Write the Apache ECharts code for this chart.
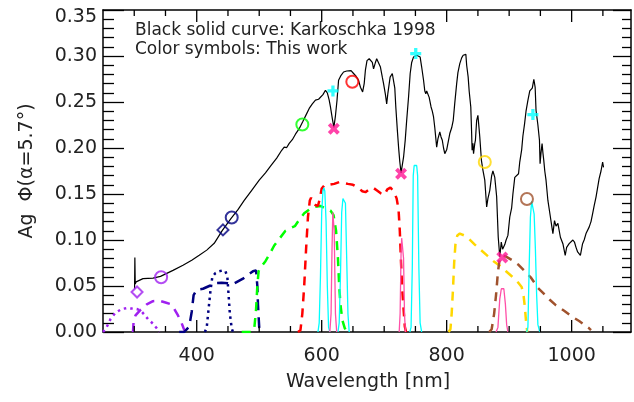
<!DOCTYPE html>
<html><head><meta charset="utf-8">
<script src="https://cdn.jsdelivr.net/npm/echarts@6/dist/echarts.min.js"></script>
<style>html,body{margin:0;padding:0;background:#fff}#c{width:634px;height:402px}</style>
</head><body><div id="c"></div>
<script>
// ---- Karkoschka 1998 albedo spectrum (black curve) ----
const karkWl = [300.5,301,301.6,303,314,330,342,362,378,392,404,416,428,441,455,466,476,488,500,510,519,528,536,540,542,544,548,553,558,564,570,575,580,585,590,595,598,602,606,609,612,614,617,619.5,622,624.5,627,631,635,640,643,647,651,655,659,662,665.5,668,670,672.5,676,678,681,683,686,688,691,694,697,699,702,704,706,709.5,713,715.5,717,718.6,721,723,725,727,729,731,733.6,736,739,741.6,744,747,750,752,755,757.5,760,763,765,766.6,768,770.7,772,775,777,779,781,784,786,789,791,793,795,797,800,805,808,810.5,813,816,818,821,824,826.4,829,830.7,832,834.4,836,838.6,840,840.7,842,843,845,846,848,850,852,853,855.6,858,861,864,866,869,872,874,877,880,882.5,885,887.4,889.5,891.7,893,895,898,901,904,906,909,912,915,917,920,922,924.7,927,930,933,935.5,937,939.5,941.6,943,946,948.5,949.5,951,952.7,954,955.4,957,959,962,966,970,972.6,975,978,982,986,989.7,992,994,996,999,1002,1004.5,1007,1009.6,1012,1014,1017.5,1020,1023,1028,1031,1033.6,1036,1039,1044,1047,1049.6,1051];
const karkAg = [0.047,0.081,0.052,0.0545,0.058,0.0585,0.0605,0.067,0.0725,0.078,0.0834,0.089,0.0964,0.1105,0.1236,0.133,0.143,0.154,0.165,0.173,0.181,0.189,0.1975,0.201,0.203,0.2005,0.205,0.209,0.215,0.221,0.229,0.236,0.243,0.248,0.252,0.253,0.254,0.258,0.2627,0.260,0.252,0.2446,0.232,0.2225,0.235,0.2518,0.2736,0.279,0.2826,0.2837,0.2835,0.284,0.281,0.278,0.2736,0.266,0.261,0.27,0.285,0.295,0.297,0.299,0.293,0.286,0.293,0.297,0.2955,0.288,0.277,0.27,0.258,0.248,0.26,0.277,0.281,0.280,0.265,0.2446,0.22,0.201,0.185,0.173,0.175,0.19,0.208,0.230,0.2554,0.281,0.293,0.299,0.300,0.3008,0.301,0.299,0.288,0.2736,0.262,0.259,0.262,0.2627,0.255,0.2446,0.24,0.2337,0.222,0.201,0.21,0.2174,0.212,0.2084,0.20,0.1939,0.198,0.2157,0.222,0.2301,0.249,0.27,0.282,0.2917,0.298,0.3008,0.302,0.3018,0.29,0.277,0.262,0.2446,0.215,0.1975,0.205,0.1939,0.205,0.2084,0.2301,0.2355,0.22,0.212,0.1866,0.176,0.165,0.136,0.145,0.154,0.17,0.175,0.168,0.147,0.1033,0.0815,0.0978,0.09,0.0888,0.095,0.0997,0.105,0.125,0.135,0.15,0.168,0.17,0.172,0.185,0.198,0.213,0.2265,0.24,0.2518,0.262,0.2627,0.265,0.2747,0.266,0.241,0.225,0.2084,0.183,0.195,0.2048,0.195,0.1866,0.175,0.165,0.143,0.125,0.107,0.121,0.115,0.118,0.103,0.096,0.0834,0.092,0.0924,0.096,0.096,0.1,0.0978,0.092,0.087,0.088,0.0834,0.096,0.1,0.107,0.114,0.12,0.1287,0.137,0.1467,0.1667,0.175,0.1848,0.179];

// ---- Filter transmission curves (scaled) ----
const violetDotWl = [250,255,262,270,280,288,296,304,310,316,322,330,336,340];
const violetDotT  = [0,0.004,0.014,0.021,0.025,0.026,0.0255,0.025,0.0235,0.019,0.014,0.009,0.004,0];
const violetDashWl = [298,299,302,310,320,330,340,350,357,364,370,375,379,382];
const violetDashT  = [0,0.012,0.018,0.024,0.03,0.0335,0.034,0.032,0.0305,0.025,0.018,0.011,0.004,0];
const navyDashWl = [372,380,388,392,395,400,410,420,430,440,450,458,466,474,482,490,495,497,498,500,501];
const navyDashT  = [0,0,0.006,0.022,0.04,0.046,0.047,0.05,0.053,0.0535,0.053,0.052,0.055,0.058,0.062,0.066,0.067,0.05,0.03,0.005,0];
const navyDotWl = [413,416,419,422,425,430,436,442,446,449,451,453,456,458];
const navyDotT  = [0,0.005,0.025,0.045,0.06,0.064,0.066,0.067,0.066,0.06,0.04,0.02,0.004,0];
const greenDashWl = [472,480,488,492,495,497,499,502,510,517,524,533,542,550,557,565,572,580,588,598,607,614,619,623,626,628,630,633,637,641];
const greenDashT  = [0,0,0,0.003,0.025,0.05,0.066,0.07,0.077,0.085,0.094,0.102,0.11,0.113,0.115,0.123,0.129,0.133,0.136,0.137,0.134,0.132,0.127,0.11,0.08,0.05,0.03,0.013,0.004,0];
const redDashWl = [562,566,569,572,575,578,581,583,586,590,594,597,600,605,612,620,628,635,642,650,658,665,670,676,682,688,694,700,705,710,716,720,723,725,727,729,731,733,735];
const redDashT  = [0,0.002,0.02,0.05,0.09,0.125,0.143,0.146,0.141,0.138,0.137,0.145,0.156,0.16,0.16,0.161,0.163,0.162,0.161,0.16,0.157,0.153,0.152,0.155,0.157,0.154,0.151,0.149,0.155,0.157,0.152,0.145,0.133,0.11,0.075,0.045,0.025,0.006,0];
const yellowDashWl = [803,806,808,810,812,814,817,821,828,836,845,855,865,875,885,895,905,914,920,923,925,927,929];
const yellowDashT  = [0,0.003,0.02,0.045,0.075,0.095,0.105,0.107,0.105,0.101,0.095,0.089,0.083,0.077,0.072,0.066,0.06,0.054,0.049,0.04,0.028,0.012,0];
const brownDashWl = [868,872,876,879,882,885,890,895,905,915,925,935,946,955,965,975,988,1000,1012,1020,1028,1031];
const brownDashT  = [0,0.003,0.02,0.04,0.065,0.08,0.083,0.082,0.078,0.073,0.066,0.059,0.048,0.042,0.035,0.029,0.023,0.017,0.012,0.008,0.004,0.002];
const cyan1Wl = [594,596,598,600,602,603.5,605,607,609,611,613];
const cyan1T  = [0,0.01,0.06,0.13,0.153,0.157,0.153,0.12,0.05,0.005,0];
const cyan2Wl = [626,628,630,632,634,636,638,640,642,644];
const cyan2T  = [0,0.01,0.06,0.13,0.145,0.147,0.14,0.08,0.02,0];
const cyan3Wl = [741,743,745,746.5,748,752,753.5,755.5,757.5,760];
const cyan3T  = [0,0.005,0.07,0.17,0.181,0.181,0.17,0.07,0.01,0];
const cyan4Wl = [928,930,932,934,936,938,940,942,944,946,949];
const cyan4T  = [0,0.005,0.07,0.125,0.142,0.14,0.128,0.09,0.04,0.008,0];
const pink1Wl = [613,615,616.5,617.8,619,620,621,622,624];
const pink1T  = [0,0.02,0.09,0.13,0.131,0.11,0.065,0.02,0];
const pink2Wl = [724,725.5,727,728,729.5,731,732.5,734];
const pink2T  = [0,0.02,0.085,0.102,0.1,0.08,0.02,0];
const pink3Wl = [879,882,885,887.5,891.5,894,896,898];
const pink3T  = [0,0.005,0.036,0.047,0.047,0.03,0.008,0];

// ---- Symbols (this work) ----
const violetDiamondPt = [[304.5, 0.0435]];
const violetCirclePt = [[343, 0.0595]];
const navyDiamondPt = [[442, 0.111]];
const navyCirclePt = [[456, 0.1245]];
const greenCirclePt = [[569, 0.2255]];
const redCirclePt = [[649, 0.272]];
const yellowCirclePt = [[861, 0.1848]];
const brownCirclePt = [[928.5, 0.1445]];
const cyanPlusPts = [[618, 0.262],[750.5, 0.3026],[938, 0.2363]];
const pinkCrossPts = [[619.4, 0.221],[727, 0.172],[889, 0.0809]];

// ---- Axis tick positions (x) ----
const xMinorTicks = [300,350,450,500,550,650,700,750,850,900,950,1050];
const xMajorTicks = [400,600,800,1000];
const yMin = 0, yMax = 0.35;

const FONT = 'DejaVu Sans';
const GRID = {left:103, right:1, top:10, bottom:70};
const plotH = 402 - GRID.top - GRID.bottom;
const unitsPerPx = (yMax - yMin) / plotH;
const pair = (xs, ys) => xs.map((x, i) => [x, ys[i]]);
const PLUS = 'path://M3.5,0H6.5V3.5H10V6.5H6.5V10H3.5V6.5H0V3.5H3.5Z';

function band(data, color, width, type, z) {
  return {type:'line', data, showSymbol:false, symbol:'none', silent:true, animation:false, z,
    lineStyle:{color, width, type}};
}
function marks(data, symbol, size, color, filled, rotate) {
  return {type:'scatter', data, symbol, symbolSize:size, symbolRotate: rotate||0, silent:true, animation:false, z:20,
    itemStyle: filled ? {color} : {color:'rgba(0,0,0,0)', borderColor:color, borderWidth:2}};
}
// inward x-axis ticks (bottom and top) as short broken line segments through the chart scales
function xTickSegments(values, lenPx) {
  const d = lenPx * unitsPerPx;
  const out = [];
  values.forEach(v => {
    out.push([v, yMin], [v, yMin + d], [v, '-']);
    out.push([v, yMax], [v, yMax - d], [v, '-']);
  });
  return {type:'line', data:out, showSymbol:false, symbol:'none', connectNulls:false, silent:true,
    animation:false, z:30, clip:false, lineStyle:{color:'#000', width:1.3, type:'solid'}};
}

const chart = echarts.init(document.getElementById('c'), null, {renderer:'canvas'});
const axisLineStyle = {color:'#000', width:1.5};
const tickLS = {color:'#000', width:1.3};
chart.setOption({
  animation:false,
  textStyle:{fontFamily:FONT},
  grid:GRID,
  xAxis:[
    {type:'value', min:250, max:1095, interval:50, position:'bottom', splitLine:{show:false},
      axisLine:{show:true, onZero:false, lineStyle:axisLineStyle}, axisTick:{show:false},
      axisLabel:{formatter:v => (v % 200 === 0 ? String(v) : ''), fontSize:19, color:'#222', margin:15, fontFamily:FONT}},
    {type:'value', min:250, max:1095, interval:50, position:'top', splitLine:{show:false},
      axisLine:{show:true, onZero:false, lineStyle:axisLineStyle}, axisTick:{show:false}, axisLabel:{show:false}}
  ],
  yAxis:[
    {type:'value', min:yMin, max:yMax, interval:0.05, position:'left', splitLine:{show:false},
      axisLine:{show:true, lineStyle:axisLineStyle},
      axisTick:{show:true, inside:true, length:21, lineStyle:tickLS},
      minorTick:{show:true, splitNumber:5, length:11, lineStyle:tickLS},
      minorSplitLine:{show:false},
      axisLabel:{formatter:v => (Math.abs(v - 0.35) < 1e-6 ? '{top|' + v.toFixed(2) + '}' : v.toFixed(2)),
        rich:{top:{fontSize:19, color:'#222', fontFamily:FONT, padding:[14,0,0,0]}},
        fontSize:19, color:'#222', margin:6, fontFamily:FONT}},
    {type:'value', min:yMin, max:yMax, interval:0.05, position:'right', splitLine:{show:false},
      axisLine:{show:true, lineStyle:axisLineStyle},
      axisTick:{show:true, inside:true, length:18, lineStyle:tickLS},
      minorTick:{show:true, splitNumber:5, length:9, lineStyle:tickLS},
      minorSplitLine:{show:false}, axisLabel:{show:false}}
  ],
  graphic:[
    {type:'text', left:135, top:22, style:{text:'Black solid curve: Karkoschka 1998', font:'17px "DejaVu Sans"', fill:'#222'}},
    {type:'text', left:135, top:41, style:{text:'Color symbols: This work', font:'17px "DejaVu Sans"', fill:'#222'}},
    {type:'text', x:368, y:382, style:{text:'Wavelength [nm]', font:'19px "DejaVu Sans"', fill:'#222', align:'center', verticalAlign:'middle'}},
    {type:'text', x:27, y:171, rotation:Math.PI/2, style:{text:'Ag  \u03A6(\u03B1=5.7\u00B0)', font:'19px "DejaVu Sans"', fill:'#222', align:'center', verticalAlign:'middle'}}
  ],
  series:[
    xTickSegments(xMinorTicks, 6),
    xTickSegments(xMajorTicks, 12),
    band(pair(violetDotWl, violetDotT), '#A020F0', 2.5, [2.5,4], 2),
    band(pair(violetDashWl, violetDashT), '#A020F0', 2.5, [9,7], 2),
    band(pair(navyDashWl, navyDashT), '#000080', 2.5, [11,7], 2),
    band(pair(navyDotWl, navyDotT), '#000080', 2.5, [2.5,4], 2),
    band(pair(greenDashWl, greenDashT), '#00FF00', 2.5, [9,7], 2),
    band(pair(redDashWl, redDashT), '#FF0000', 2.5, [9,7], 3),
    band(pair(yellowDashWl, yellowDashT), '#FFD700', 2.5, [9,7], 2),
    band(pair(brownDashWl, brownDashT), '#A0522D', 2.5, [9,7], 2),
    band(pair(cyan1Wl, cyan1T), '#00FFFF', 1.3, 'solid', 4),
    band(pair(cyan2Wl, cyan2T), '#00FFFF', 1.3, 'solid', 4),
    band(pair(cyan3Wl, cyan3T), '#00FFFF', 1.3, 'solid', 4),
    band(pair(cyan4Wl, cyan4T), '#00FFFF', 1.3, 'solid', 4),
    band(pair(pink1Wl, pink1T), '#FF50A8', 1.3, 'solid', 5),
    band(pair(pink2Wl, pink2T), '#FF50A8', 1.3, 'solid', 5),
    band(pair(pink3Wl, pink3T), '#FF50A8', 1.3, 'solid', 5),
    band(pair(karkWl, karkAg), '#000000', 1.2, 'solid', 6),
    marks(violetDiamondPt, 'diamond', 11, '#A020F0', false),
    marks(violetCirclePt, 'circle', 12, '#A020F0', false),
    marks(navyDiamondPt, 'diamond', 11, '#000080', false),
    marks(navyCirclePt, 'circle', 12, '#000080', false),
    marks(greenCirclePt, 'circle', 12, '#00FF00', false),
    marks(redCirclePt, 'circle', 12, '#FF0000', false),
    marks(yellowCirclePt, 'circle', 12, '#FFD700', false),
    marks(brownCirclePt, 'circle', 12, '#A0522D', false),
    marks(cyanPlusPts, PLUS, 11, '#00FFFF', true),
    marks(pinkCrossPts, PLUS, 13, '#FF1493', true, 45)
  ]
});
</script>
</body></html>
